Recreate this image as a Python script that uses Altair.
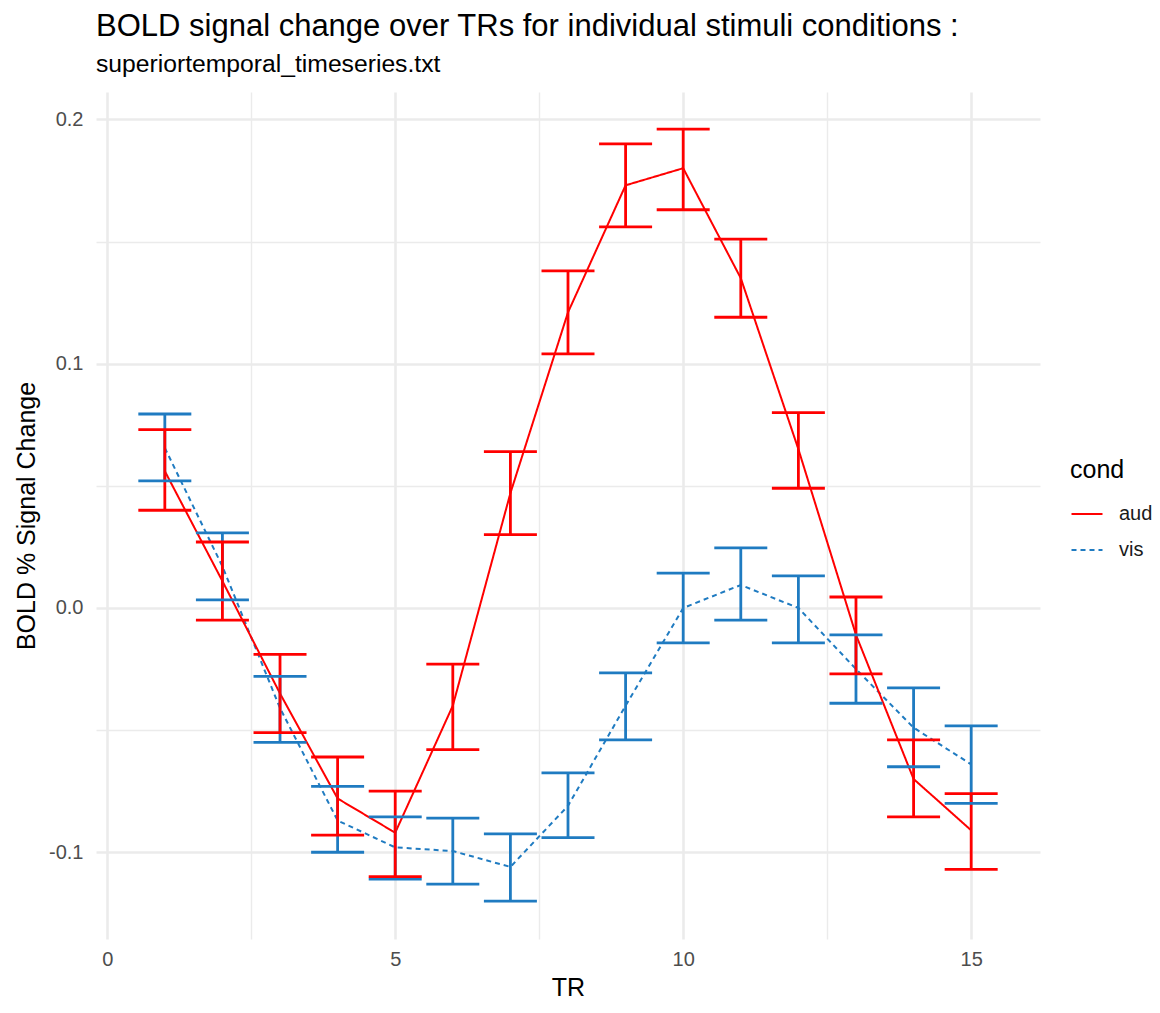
import altair as alt
import pandas as pd

TR = list(range(1, 16))
conds = ["aud", "vis"]

aud_mean = [0.056, 0.011, -0.035, -0.078, -0.092, -0.040, 0.047, 0.121, 0.173, 0.180, 0.135, 0.065, -0.011, -0.070, -0.091]
aud_lo = [0.040, -0.005, -0.051, -0.093, -0.110, -0.058, 0.030, 0.104, 0.156, 0.163, 0.119, 0.049, -0.027, -0.0855, -0.107]
aud_hi = [0.073, 0.027, -0.019, -0.061, -0.075, -0.023, 0.064, 0.138, 0.190, 0.196, 0.151, 0.080, 0.0045, -0.054, -0.076]

vis_mean = [0.0655, 0.017, -0.041, -0.087, -0.098, -0.0995, -0.106, -0.081, -0.040, 0.000, 0.0094, 0.000, -0.025, -0.049, -0.064]
vis_lo = [0.052, 0.0033, -0.055, -0.100, -0.111, -0.113, -0.120, -0.094, -0.054, -0.0143, -0.005, -0.0143, -0.039, -0.065, -0.080]
vis_hi = [0.0794, 0.0307, -0.028, -0.073, -0.0855, -0.086, -0.0925, -0.0675, -0.0266, 0.0143, 0.0246, 0.0131, -0.011, -0.0327, -0.0483]

x_grid = [0, 2.5, 5, 7.5, 10, 12.5, 15]
y_grid = [-0.1, -0.05, 0.0, 0.05, 0.1, 0.15, 0.2]

rows = []
for c, m, lo, hi in [("vis", vis_mean, vis_lo, vis_hi), ("aud", aud_mean, aud_lo, aud_hi)]:
    for t, a, b, d in zip(TR, m, lo, hi):
        rows.append({"TR": t, "cond": c, "mean": a, "lo": b, "hi": d})
df = pd.DataFrame(rows)

RED = "#FF0000"
BLUE = "#1F7BC1"
FONT = "Liberation Sans"

xscale = alt.Scale(domain=[-0.195, 16.195], nice=False, zero=False)
yscale = alt.Scale(domain=[-0.1355, 0.2112], nice=False, zero=False)
cscale = alt.Scale(domain=conds, range=[RED, BLUE])
dscale = alt.Scale(domain=conds, range=[[1, 0], [5, 4]])

xaxis = alt.Axis(
    values=x_grid, title="TR",
    labelExpr="datum.value % 5 == 0 ? format(datum.value, 'd') : ''",
    labelOverlap=False, labelFlush=False,
    gridWidth={"condition": {"test": "datum.value % 5 == 0", "value": 2.6}, "value": 1.4},
    labelPadding=10, titlePadding=6,
)
yaxis = alt.Axis(
    values=y_grid, title="BOLD % Signal Change",
    labelExpr="abs(datum.value*10 - round(datum.value*10)) < 0.001 ? (datum.value < -0.0001 ? '-' + format(-datum.value, '.1f') : format(abs(datum.value), '.1f')) : ''",
    labelOverlap=False, labelFlush=False,
    gridWidth={"condition": {"test": "abs(datum.value*10 - round(datum.value*10)) < 0.001", "value": 2.6}, "value": 1.4},
    labelPadding=13, titlePadding=9,
)

legend = alt.Legend(
    title="cond", orient="none", legendX=974, legendY=366,
    symbolType="stroke", symbolSize=961, symbolStrokeWidth=2.2,
    titleFontSize=25, labelFontSize=20, titleFont=FONT, labelFont=FONT,
    titleColor="black", labelColor="#1a1a1a", titleFontWeight="normal",
    titlePadding=14, rowPadding=9, labelOffset=15,
)

base = alt.Chart(df)

lines = base.mark_line(strokeWidth=2).encode(
    x=alt.X("TR:Q", scale=xscale, axis=xaxis),
    y=alt.Y("mean:Q", scale=yscale, axis=yaxis),
    color=alt.Color("cond:N", scale=cscale, legend=legend),
    strokeDash=alt.StrokeDash("cond:N", scale=dscale, legend=legend),
)

bars = base.mark_rule(strokeWidth=2.8, opacity=1).encode(
    x="TR:Q",
    y="lo:Q",
    y2="hi:Q",
    color=alt.Color("cond:N", scale=cscale, legend=None),
)

caps = base.transform_fold(["lo", "hi"], as_=["end", "val"]).mark_tick(
    orient="horizontal", size=53, thickness=2.8, opacity=1
).encode(
    x="TR:Q",
    y="val:Q",
    color=alt.Color("cond:N", scale=cscale, legend=None),
)

chart = alt.layer(lines, bars, caps).properties(
    width=944, height=847,
    autosize=alt.AutoSizeParams(type="none"),
    padding={"left": 88, "top": 84, "right": 112, "bottom": 60},
    background="white",
    title=alt.TitleParams(
        text="BOLD signal change over TRs for individual stimuli conditions :",
        subtitle="superiortemporal_timeseries.txt",
        anchor="start", frame="group", offset=14,
        fontSize=31, subtitleFontSize=24.7, font=FONT, subtitleFont=FONT,
        fontWeight="normal", color="black", subtitleColor="black",
        subtitlePadding=9,
    ),
).configure_view(stroke=None).configure_axis(
    domain=False, ticks=False, gridColor="#EBEBEB",
    labelFont=FONT, titleFont=FONT, labelFontSize=20, titleFontSize=25,
    labelColor="#4D4D4D", titleColor="black", titleFontWeight="normal",
)

chart.save("out.html", embed_options={"renderer": "svg", "actions": False})
